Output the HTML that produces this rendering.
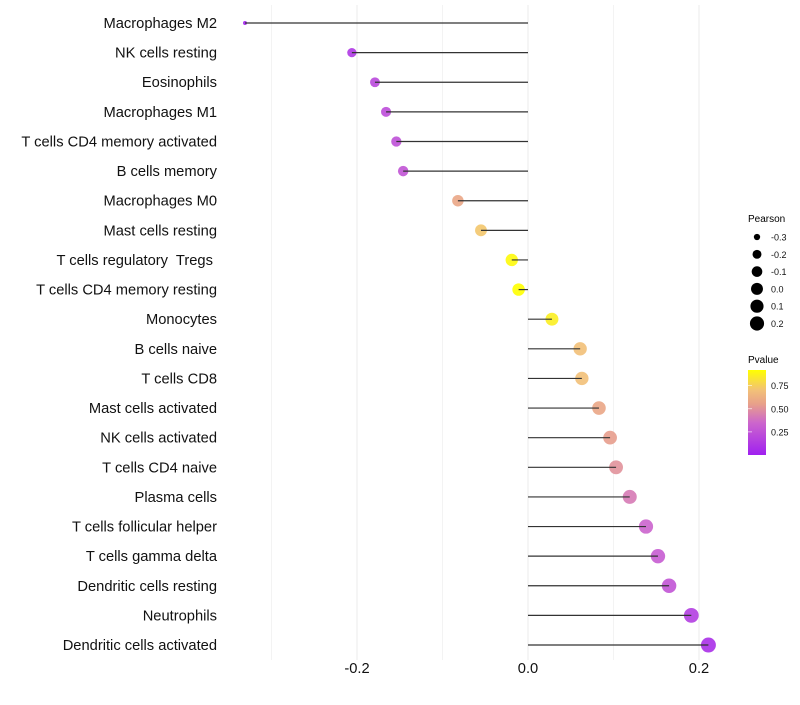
<!DOCTYPE html>
<html><head><meta charset="utf-8"><style>
body{margin:0;background:#fff;font-family:"Liberation Sans",sans-serif}
</style></head><body>
<svg id="chart" width="800" height="700" xmlns="http://www.w3.org/2000/svg" font-family="Liberation Sans, sans-serif">
<g id="grid"></g><g id="marks"></g><g id="labels"></g>
<g id="legend">
<text x="748" y="222" font-size="10" fill="#000">Pearson</text>
<g id="sizeleg"></g>
<text x="748" y="363" font-size="10" fill="#000">Pvalue</text>
<defs><linearGradient id="pg" x1="0" y1="1" x2="0" y2="0">
<stop offset="0" stop-color="#a020f0"/><stop offset="0.38" stop-color="#cc66cc"/><stop offset="0.6" stop-color="#e8a08a"/><stop offset="0.76" stop-color="#f2c078"/><stop offset="1" stop-color="#ffff00"/></linearGradient></defs>
<rect x="748" y="370" width="18" height="85" fill="url(#pg)"/>
<g id="cbticks"></g>
</g>
</svg>
<script>
const categories=["Macrophages M2","NK cells resting","Eosinophils","Macrophages M1","T cells CD4 memory activated","B cells memory","Macrophages M0","Mast cells resting","T cells regulatory  Tregs ","T cells CD4 memory resting","Monocytes","B cells naive","T cells CD8","Mast cells activated","NK cells activated","T cells CD4 naive","Plasma cells","T cells follicular helper","T cells gamma delta","Dendritic cells resting","Neutrophils","Dendritic cells activated"];
const pearson=[-0.331,-0.206,-0.179,-0.166,-0.154,-0.146,-0.082,-0.055,-0.019,-0.011,0.028,0.061,0.063,0.083,0.096,0.103,0.119,0.138,0.152,0.165,0.191,0.211];
const pvalues=[0.02,0.12,0.2,0.22,0.24,0.26,0.58,0.72,0.9,0.92,0.86,0.7,0.7,0.58,0.54,0.5,0.42,0.34,0.3,0.26,0.15,0.08];
const xTicks=[-0.2,0,0.2];
const xMinor=[-0.3,-0.1,0.1];
const sizeLegend=[-0.3,-0.2,-0.1,0.0,0.1,0.2];
const cbTicks=[0.25,0.5,0.75];
const NS="http://www.w3.org/2000/svg";
const X=v=>528+v*855;
const Y=i=>23+i*29.62;
const R=v=>2+5.5*Math.sqrt(Math.max(0,(v+0.331)/0.542));
const stops=[[0,[160,32,240]],[0.35,[204,102,204]],[0.55,[232,160,138]],[0.7,[242,192,120]],[0.92,[255,255,0]]];
function col(p){if(p<=stops[0][0])return stops[0][1];for(let i=1;i<stops.length;i++){if(p<=stops[i][0]){const a=stops[i-1],b=stops[i],t=(p-a[0])/(b[0]-a[0]);return a[1].map((c,k)=>Math.round(c+(b[1][k]-c)*t));}}return stops[stops.length-1][1];}
function mk(t,a,parent){const e=document.createElementNS(NS,t);for(const k in a)e.setAttribute(k,a[k]);document.getElementById(parent).appendChild(e);return e;}
xMinor.concat(xTicks).forEach(v=>{const l=mk('line',{x1:X(v),x2:X(v),y1:5,y2:660,stroke:'#ebebeb','stroke-width':xTicks.includes(v)?1:0.6},'grid');

});
xTicks.forEach(v=>{const t=mk('text',{x:X(v),y:673,'font-size':14.7,'text-anchor':'middle',fill:'#111'},'labels');t.textContent=v===0?'0.0':v.toFixed(1);

});
categories.forEach((c,i)=>{const y=Y(i);
const t=mk('text',{x:217,y:y+5,'font-size':14.7,'text-anchor':'end',fill:'#111','xml:space':'preserve',style:'white-space:pre'},'labels');t.textContent=c;


const cc=col(pvalues[i]);
const p=mk('circle',{cx:X(pearson[i]),cy:y,r:R(pearson[i]),fill:`rgb(${cc.join(',')})`,'fill-opacity':0.9},'marks');


const l=mk('line',{x1:X(0),x2:X(pearson[i]),y1:y,y2:y,stroke:'#333','stroke-width':1.2},'marks');

});
sizeLegend.forEach((v,i)=>{const y=237+i*17.3;
const c=mk('circle',{cx:757,cy:y,r:R(v)*0.95,fill:'#000'},'sizeleg');


const t=mk('text',{x:771,y:y+3.5,'font-size':9,fill:'#111'},'sizeleg');t.textContent=v.toFixed(1);

});
cbTicks.forEach(v=>{const y=455-v/0.92*85;
const l=mk('line',{x1:748,x2:752,y1:y,y2:y,stroke:'#fff','stroke-width':0.6},'cbticks');


const t=mk('text',{x:771,y:y+3.5,'font-size':9,fill:'#111'},'cbticks');t.textContent=v.toFixed(2);

});
</script>
</body></html>
